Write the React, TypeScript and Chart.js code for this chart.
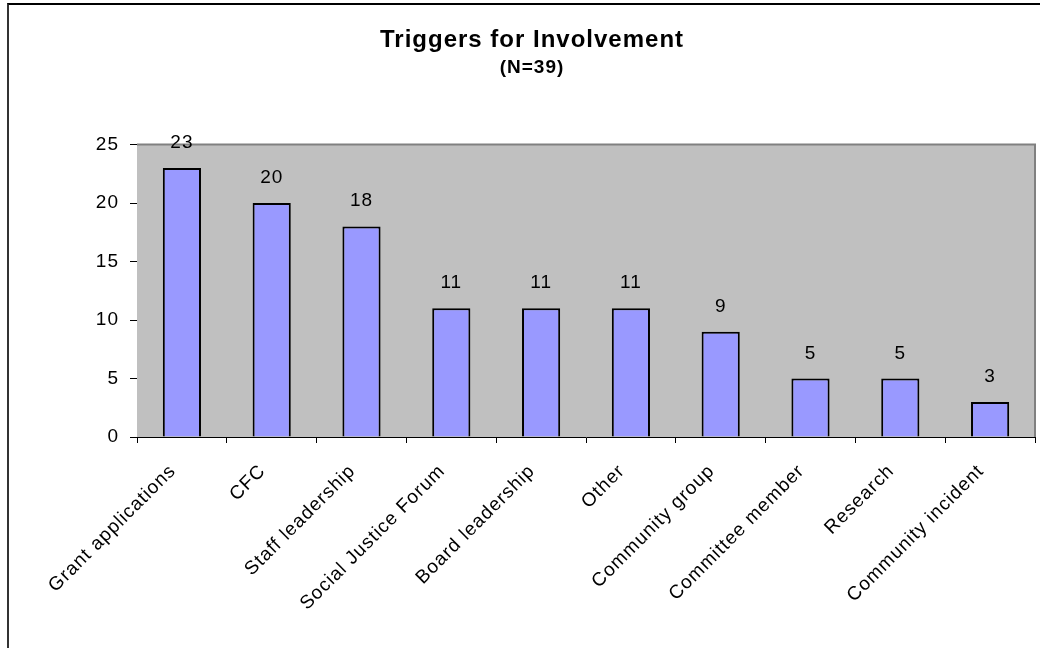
import React, { useEffect, useRef } from "react";
import { Chart, registerables } from "chart.js";

Chart.register(...registerables);

const categories = [
  "Grant applications",
  "CFC",
  "Staff leadership",
  "Social Justice Forum",
  "Board leadership",
  "Other",
  "Community group",
  "Committee member",
  "Research",
  "Community incident",
];
const counts = [23, 20, 18, 11, 11, 11, 9, 5, 5, 3];
const yTicks = [0, 5, 10, 15, 20, 25];
const titleText = "Triggers for Involvement";
const subtitleText = "(N=39)";

const FONT = "Arial, 'Liberation Sans', sans-serif";

const spacing = {
  id: "spacing",
  beforeLayout(chart: any) {
    chart.ctx.letterSpacing = "1px";
  },
  beforeDraw(chart: any) {
    chart.ctx.letterSpacing = "1px";
  },
};

const plotBg = {
  id: "plotBg",
  beforeDatasetsDraw(chart: any) {
    const { ctx, chartArea: a } = chart;
    ctx.save();
    ctx.fillStyle = "#C0C0C0";
    ctx.fillRect(a.left, a.top, a.right - a.left, a.bottom - a.top);
    ctx.strokeStyle = "#808080";
    ctx.lineWidth = 2;
    ctx.beginPath();
    ctx.moveTo(a.left, a.top);
    ctx.lineTo(a.right, a.top);
    ctx.lineTo(a.right, a.bottom);
    ctx.stroke();
    ctx.restore();
  },
};

const valueLabels = {
  id: "valueLabels",
  afterDatasetsDraw(chart: any) {
    const { ctx } = chart;
    const meta = chart.getDatasetMeta(0);
    ctx.save();
    ctx.fillStyle = "#000";
    ctx.font = `19px ${FONT}`;
    ctx.textAlign = "center";
    ctx.textBaseline = "alphabetic";
    meta.data.forEach((bar: any, i: number) => {
      ctx.fillText(String(counts[i]), bar.x, bar.y - 20);
    });
    ctx.restore();
  },
};

export default function App() {
  const ref = useRef<HTMLCanvasElement>(null);
  useEffect(() => {
    document.body.style.margin = "0";
    const chart = new Chart(ref.current as HTMLCanvasElement, {
      type: "bar",
      data: {
        labels: categories,
        datasets: [
          {
            data: counts,
            backgroundColor: "#9999FF",
            borderColor: "#000000",
            borderWidth: 2,
            categoryPercentage: 1,
            barPercentage: 0.425,
          },
        ],
      },
      options: {
        responsive: false,
        animation: false,
        events: [],
        layout: { padding: { left: 29, right: 5, top: 0, bottom: 0 } },
        plugins: {
          legend: { display: false },
          tooltip: { enabled: false },
          title: {
            display: true,
            text: titleText,
            color: "#000",
            font: { family: FONT, size: 24, weight: "bold" },
            padding: { top: 26, bottom: 0 },
          },
          subtitle: {
            display: true,
            text: subtitleText,
            color: "#000",
            font: { family: FONT, size: 19, weight: "bold" },
            padding: { top: 2, bottom: 65 },
          },
        },
        scales: {
          x: {
            grid: {
              offset: true,
              drawOnChartArea: false,
              drawTicks: true,
              tickLength: 6,
              color: "#000",
            },
            border: { color: "#000", width: 1 },
            ticks: {
              autoSkip: false,
              minRotation: 45,
              maxRotation: 45,
              color: "#000",
              font: { family: FONT, size: 19 },
              padding: 17,
              labelOffset: -9,
            },
            afterFit(scale: any) {
              scale.height = 211;
            },
          },
          y: {
            min: 0,
            max: 25,
            afterBuildTicks(scale: any) {
              scale.ticks = yTicks.map((v) => ({ value: v }));
            },
            grid: {
              drawOnChartArea: false,
              drawTicks: true,
              tickLength: 7,
              color: "#000",
            },
            border: { color: "#000", width: 1 },
            ticks: {
              color: "#000",
              font: { family: FONT, size: 19 },
              padding: 11,
            },
            afterFit(scale: any) {
              scale.width = 108;
            },
          },
        },
      },
      plugins: [spacing, plotBg, valueLabels],
    });
    return () => chart.destroy();
  }, []);

  return (
    <div style={{ position: "relative", width: 1040, height: 648, background: "#fff", overflow: "hidden" }}>
      <div
        style={{
          position: "absolute",
          left: 7,
          top: 3,
          width: 1100,
          height: 700,
          borderTop: "2px solid #000",
          borderLeft: "2px solid #333",
        }}
      />
      <canvas ref={ref} width={1040} height={648} style={{ position: "absolute", left: 0, top: 0 }} />
    </div>
  );
}
